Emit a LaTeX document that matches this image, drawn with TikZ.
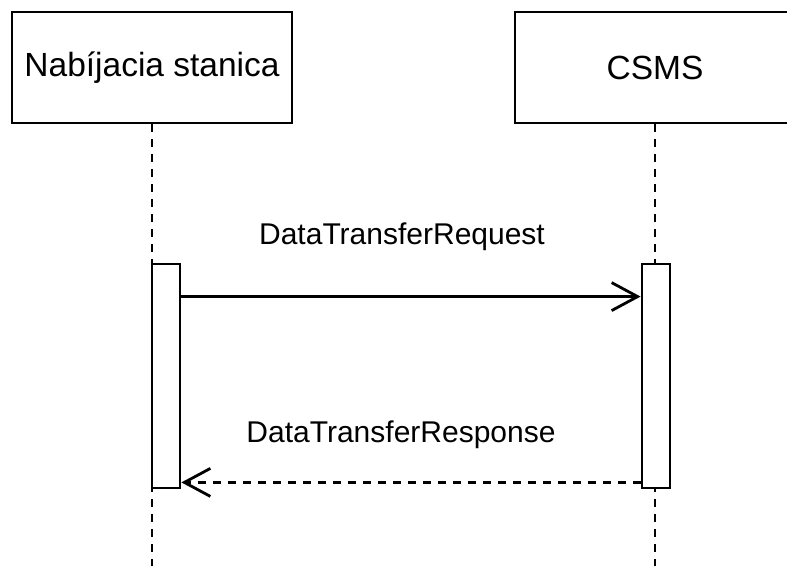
\documentclass[tikz,border=0pt]{standalone}
\usepackage{fontspec}
\setmainfont{Liberation Sans}
\usetikzlibrary{positioning,calc,arrows,arrows.meta}

\begin{document}
\begin{tikzpicture}
	\useasboundingbox (0,0) rectangle (787bp,-566bp);
	\begin{scope}[x=1bp, y=-1bp, line width=2.8bp]
		\tikzstyle{every node}=[align=center, inner sep=0.2em]
		\tikzstyle{actor}=[draw, minimum width=280bp, minimum height=111bp, font=\fontsize{33.5bp}{40bp}\selectfont]
		\tikzstyle{activation}=[draw, fill=white, minimum width=28bp, minimum height=224bp, inner sep=0pt]
		\tikzstyle{msg}=[font=\fontsize{30bp}{36bp}\selectfont]

		\node[actor] (cs)   at (152, 67.5) {Nabíjacia stanica};
		\node[actor] (csms) at (655, 67.5) {CSMS};

		\coordinate (csend)   at (152, 570);
		\coordinate (csmsend) at (655, 570);

		\draw [dash pattern=on 8bp off 7bp] (cs) to (csend);
		\draw [dash pattern=on 8bp off 7bp] (csms) to (csmsend);

		\node[activation] (act1) at (166, 376) {};
		\node[activation] (act2) at (656, 376) {};

		\node[msg] (req) at (402, 237) {DataTransferRequest};
		\node[msg] (res) at (401, 435) {DataTransferResponse};

		\draw [->, >={Straight Barb[length=26bp, width=28bp]}] ([yshift=-34bp]act1.north east) to ([yshift=-34bp]act2.north west);
		\draw [->, >={Straight Barb[length=26bp, width=28bp]}, dash pattern=on 8bp off 7bp] ([yshift=7bp]act2.south west) to ([yshift=7bp]act1.south east);

	\end{scope}
\end{tikzpicture}
\end{document}
